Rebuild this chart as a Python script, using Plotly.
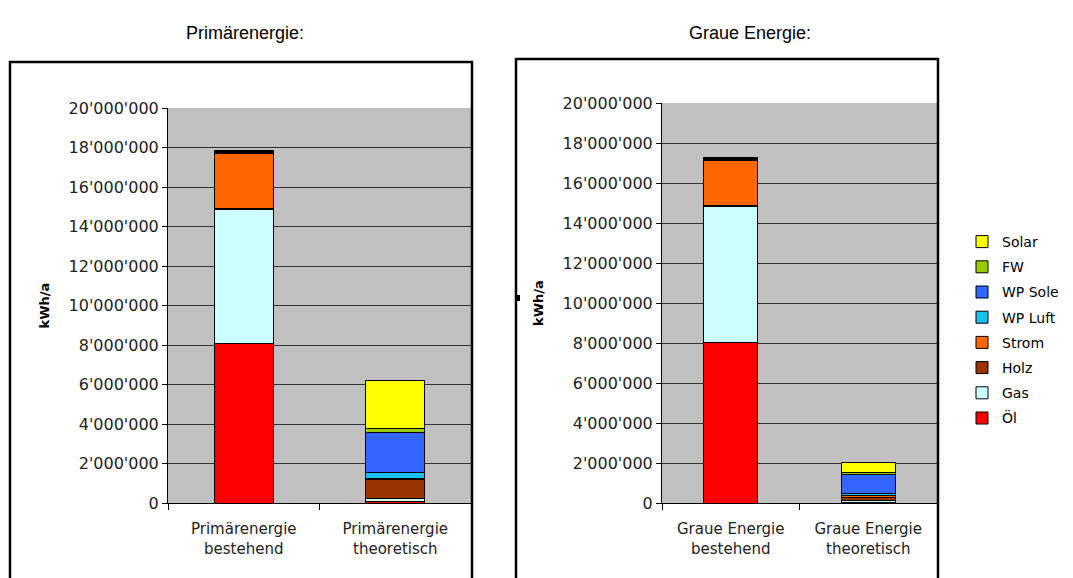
import plotly.graph_objects as go

# Categories of the two panels
cats_primaer = ["Primärenergie<br>bestehend", "Primärenergie<br>theoretisch"]
cats_graue = ["Graue Energie<br>bestehend", "Graue Energie<br>theoretisch"]

# Energy carriers (stack order bottom -> top)
series_names = ["Öl", "Gas", "Holz", "Strom", "WP Luft", "WP Sole", "FW", "Solar"]
series_colors = ["#FF0000", "#CCFFFF", "#993300", "#FF6600", "#19C0F0", "#3366FF", "#99CC00", "#FFFF00"]

# kWh/a, primary energy: [bestehend, theoretisch]
oel_prim = [8100000, 100000]
gas_prim = [6750000, 150000]
holz_prim = [50000, 950000]
strom_prim = [2800000, 50000]
wp_luft_prim = [50000, 300000]
wp_sole_prim = [50000, 2000000]
fw_prim = [50000, 200000]
solar_prim = [0, 2450000]

# kWh/a, grey energy: [bestehend, theoretisch]
oel_grau = [8050000, 50000]
gas_grau = [6800000, 100000]
holz_grau = [50000, 150000]
strom_grau = [2250000, 100000]
wp_luft_grau = [50000, 100000]
wp_sole_grau = [50000, 950000]
fw_grau = [50000, 100000]
solar_grau = [0, 500000]

prim_values = [oel_prim, gas_prim, holz_prim, strom_prim, wp_luft_prim, wp_sole_prim, fw_prim, solar_prim]
grau_values = [oel_grau, gas_grau, holz_grau, strom_grau, wp_luft_grau, wp_sole_grau, fw_grau, solar_grau]

# Y axis ticks
y_tickvals = [0, 2000000, 4000000, 6000000, 8000000, 10000000, 12000000, 14000000, 16000000, 18000000, 20000000]
y_ticktext = ["0", "2'000'000", "4'000'000", "6'000'000", "8'000'000", "10'000'000",
              "12'000'000", "14'000'000", "16'000'000", "18'000'000", "20'000'000"]

W, H = 1073, 578
FONT = "DejaVu Sans"
fig = go.Figure()

for i, (name, color, pv, gv) in enumerate(zip(series_names, series_colors, prim_values, grau_values)):
    fig.add_trace(go.Bar(
        x=cats_primaer, y=pv, name=name, legendgroup=name, legendrank=100 - i,
        marker=dict(color=color, line=dict(color="#000000", width=1)),
        width=0.39, xaxis="x", yaxis="y", showlegend=True,
    ))
    fig.add_trace(go.Bar(
        x=cats_graue, y=gv, name=name, legendgroup=name, legendrank=100 - i,
        marker=dict(color=color, line=dict(color="#000000", width=1)),
        width=0.39, xaxis="x2", yaxis="y2", showlegend=False,
    ))

ytick_font = dict(family=FONT, size=16, color="#222222")
xtick_font = dict(family=FONT, size=15, color="#222222")

def yaxis_style(anchor, domain):
    return dict(
        domain=domain, anchor=anchor, range=[0, 20000000],
        tickvals=y_tickvals, ticktext=y_ticktext, tickfont=ytick_font,
        showgrid=True, gridcolor="#333333", gridwidth=1,
        showline=True, linecolor="#000000", linewidth=1,
        ticks="outside", ticklen=5, tickcolor="#000000",
        zeroline=False, fixedrange=True, automargin=False,
        title=dict(text="<b>kWh/a</b>", font=dict(family=FONT, size=13, color="#000000"), standoff=16),
    )

def xaxis_style(anchor, domain):
    return dict(
        domain=domain, anchor=anchor, tickfont=xtick_font,
        showline=True, linecolor="#000000", linewidth=1,
        ticks="outside", ticklen=6, tickcolor="#000000", tickson="boundaries",
        ticklabelstandoff=12,
        showgrid=False, fixedrange=True, automargin=False,
    )

fig.update_layout(
    width=W, height=H,
    margin=dict(l=0, r=0, t=0, b=0, autoexpand=False),
    paper_bgcolor="#FFFFFF",
    plot_bgcolor="#C0C0C0",
    barmode="stack",
    xaxis=xaxis_style("y", [168 / W, 471 / W]),
    yaxis=yaxis_style("x", [(H - 503) / H, (H - 108) / H]),
    xaxis2=xaxis_style("y2", [662 / W, 937 / W]),
    yaxis2=yaxis_style("x2", [(H - 503) / H, (H - 103) / H]),
    legend=dict(
        x=962 / W, y=(H - 330) / H, xanchor="left", yanchor="middle",
        traceorder="grouped", tracegroupgap=4,
        font=dict(family=FONT, size=14, color="#000000"),
        bgcolor="rgba(0,0,0,0)",
    ),
    font=dict(family=FONT),
)

# Frames around the two panels
fig.add_shape(type="rect", xref="paper", yref="paper",
              x0=10 / W, x1=472 / W, y0=-0.02, y1=(H - 62) / H,
              line=dict(color="#000000", width=2.5), fillcolor="rgba(0,0,0,0)", layer="above")
fig.add_shape(type="rect", xref="paper", yref="paper",
              x0=516 / W, x1=938 / W, y0=-0.02, y1=(H - 59) / H,
              line=dict(color="#000000", width=2.5), fillcolor="rgba(0,0,0,0)", layer="above")
# small marker on the right frame
fig.add_shape(type="rect", xref="paper", yref="paper",
              x0=515 / W, x1=520 / W, y0=(H - 301) / H, y1=(H - 295) / H,
              line=dict(width=0), fillcolor="#000000")

# Panel titles
title_font = dict(family="Arial", size=18, color="#000000")
fig.add_annotation(text="Primärenergie:", xref="paper", yref="paper",
                   x=245 / W, y=(H - 33) / H, xanchor="center", yanchor="middle", showarrow=False,
                   font=title_font)
fig.add_annotation(text="Graue Energie:", xref="paper", yref="paper",
                   x=750 / W, y=(H - 33) / H, xanchor="center", yanchor="middle", showarrow=False,
                   font=title_font)

fig.write_html("out.html")
